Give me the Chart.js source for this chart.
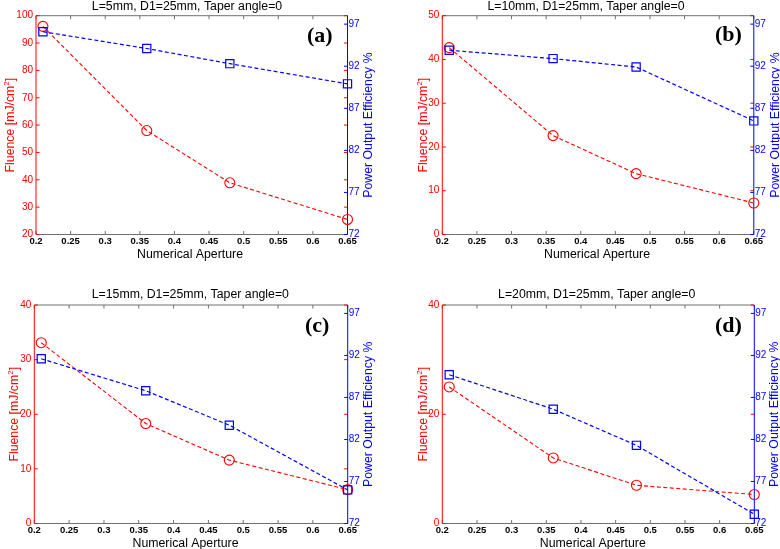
<!DOCTYPE html>
<html>
<head>
<meta charset="utf-8">
<script src="https://cdn.jsdelivr.net/npm/chart.js@4.4.1/dist/chart.umd.min.js"></script>
<style>
  html, body { margin: 0; padding: 0; background: #fff; }
  #wrap { position: relative; width: 780px; height: 549px; overflow: hidden; background: #fff; }
  #wrap canvas { position: absolute; left: 0; top: 0; }
</style>
</head>
<body>
<div id="wrap">
  <canvas id="pa" width="780" height="549"></canvas>
  <canvas id="pb" width="780" height="549"></canvas>
  <canvas id="pc" width="780" height="549"></canvas>
  <canvas id="pd" width="780" height="549"></canvas>
</div>
<script>
/* Fluence / power-output efficiency vs numerical aperture, four fibre lengths. */

// numerical aperture of the four fibres (x)
const NA = [0.21, 0.36, 0.48, 0.65];
const X_TICKS = [0.2, 0.25, 0.3, 0.35, 0.4, 0.45, 0.5, 0.55, 0.6, 0.65];

// left axis: fluence [mJ/cm2]
const FLUENCE_A = [96.1, 58.0, 38.9, 25.5];
const FLUENCE_B = [42.7, 22.6, 13.9, 7.2];
const FLUENCE_C = [33.1, 18.3, 11.6, 6.2];
const FLUENCE_D = [25.0, 12.0, 7.0, 5.3];
const FLU_TICKS_A = [20, 30, 40, 50, 60, 70, 80, 90, 100];
const FLU_TICKS_B = [0, 10, 20, 30, 40, 50];
const FLU_TICKS_C = [0, 10, 20, 30, 40];
const FLU_TICKS_D = [0, 20, 40];

// right axis: power output efficiency %
const POWER_A = [96.1, 94.1, 92.3, 89.9];
const POWER_B = [93.9, 92.9, 91.9, 85.5];
const POWER_C = [91.6, 87.8, 83.7, 76.0];
const POWER_D = [89.7, 85.6, 81.3, 73.1];
const EFF_TICKS = [72, 77, 82, 87, 92, 97];

const TITLES = [
  "L=5mm, D1=25mm, Taper angle=0",
  "L=10mm, D1=25mm, Taper angle=0",
  "L=15mm, D1=25mm, Taper angle=0",
  "L=20mm, D1=25mm, Taper angle=0",
];
const TAGS = ["(a)", "(b)", "(c)", "(d)"];

const PANELS = [
  { id: "pa", flu: FLUENCE_A, pow: POWER_A, fluTicks: FLU_TICKS_A, fluMin: 20, fluMax: 100 },
  { id: "pb", flu: FLUENCE_B, pow: POWER_B, fluTicks: FLU_TICKS_B, fluMin: 0, fluMax: 50 },
  { id: "pc", flu: FLUENCE_C, pow: POWER_C, fluTicks: FLU_TICKS_C, fluMin: 0, fluMax: 40 },
  { id: "pd", flu: FLUENCE_D, pow: POWER_D, fluTicks: FLU_TICKS_D, fluMin: 0, fluMax: 40 },
];

// where each panel sits on the 780x549 page
const GEOM = [
  { left: 36,    right: 347.5, top: 15.7, bottom: 234.5, titleX: 187,   titleY: 10.3,  xTitleX: 190,   xTitleY: 258,   yTitleX: 14,    y2TitleX: 372,   tagX: 307, tagY: 36.7 },
  { left: 442.3, right: 753.8, top: 15.7, bottom: 234.5, titleX: 586,   titleY: 10.3,  xTitleX: 597,   xTitleY: 258,   yTitleX: 426.7, y2TitleX: 779,   tagX: 715, tagY: 35 },
  { left: 34.3,  right: 347.7, top: 305,  bottom: 523.5, titleX: 190.3, titleY: 297.7, xTitleX: 185.5, xTitleY: 546.7, yTitleX: 18.3,  y2TitleX: 371.5, tagX: 305, tagY: 326.7 },
  { left: 442.3, right: 754.3, top: 305,  bottom: 523.5, titleX: 596.7, titleY: 297.7, xTitleX: 592.8, xTitleY: 546.7, yTitleX: 427,   y2TitleX: 778,   tagX: 715, tagY: 326.7 },
];

const RED = "#ff0000", BLUE = "#0000ff", GREY = "#707070";
const SANS = "'Liberation Sans', Arial, sans-serif";
const SERIF = "'Liberation Serif', 'Times New Roman', serif";
const LW = 30, RW = 20, XH = 20, TICK = 3.5;

function decor(i) {
  const g = GEOM[i], p = PANELS[i];
  return {
    id: "decor" + i,
    beforeDatasetsDraw(chart) {
      const ctx = chart.ctx, a = chart.chartArea;
      const xs = chart.scales.x, ys = chart.scales.y;
      ctx.save();
      ctx.lineWidth = 1;
      // top / bottom spines + inward x ticks
      ctx.strokeStyle = GREY;
      ctx.beginPath();
      ctx.moveTo(a.left, a.top); ctx.lineTo(a.right, a.top);
      ctx.moveTo(a.left, a.bottom); ctx.lineTo(a.right, a.bottom);
      X_TICKS.forEach((v) => {
        const px = xs.getPixelForValue(v);
        ctx.moveTo(px, a.bottom); ctx.lineTo(px, a.bottom - TICK);
        ctx.moveTo(px, a.top); ctx.lineTo(px, a.top + TICK);
      });
      ctx.stroke();
      // left spine + red ticks (mirrored on the right)
      ctx.strokeStyle = RED;
      ctx.beginPath();
      ctx.moveTo(a.left, a.top); ctx.lineTo(a.left, a.bottom);
      p.fluTicks.forEach((v) => {
        const py = ys.getPixelForValue(v);
        ctx.moveTo(a.left, py); ctx.lineTo(a.left + TICK, py);
        ctx.moveTo(a.right, py); ctx.lineTo(a.right - TICK, py);
      });
      ctx.stroke();
      // right spine + blue ticks
      const y2 = chart.scales.y2;
      ctx.strokeStyle = BLUE;
      ctx.beginPath();
      ctx.moveTo(a.right, a.top); ctx.lineTo(a.right, a.bottom);
      EFF_TICKS.forEach((v) => {
        const py = y2.getPixelForValue(v);
        ctx.moveTo(a.right, py); ctx.lineTo(a.right - TICK, py);
      });
      ctx.stroke();
      ctx.restore();
    },
    afterDraw(chart) {
      const ctx = chart.ctx, a = chart.chartArea;
      const cy = (a.top + a.bottom) / 2;
      const F = "12.3px " + SANS;
      ctx.save();
      ctx.fillStyle = "#000";
      ctx.font = F;
      ctx.textAlign = "center";
      ctx.textBaseline = "alphabetic";
      ctx.fillText(TITLES[i], g.titleX, g.titleY);
      ctx.fillText("Numerical Aperture", g.xTitleX, g.xTitleY);

      // left title with superscript
      ctx.save();
      ctx.translate(g.yTitleX, cy);
      ctx.rotate(-Math.PI / 2);
      ctx.fillStyle = RED;
      ctx.textAlign = "left";
      const t1 = "Fluence [mJ/cm", t2 = "2", t3 = "]";
      const SUP = "8px " + SANS;
      ctx.font = F; const w1 = ctx.measureText(t1).width, w3 = ctx.measureText(t3).width;
      ctx.font = SUP; const w2 = ctx.measureText(t2).width;
      let x0 = -(w1 + w2 + w3) / 2;
      ctx.font = F; ctx.fillText(t1, x0, 0);
      ctx.font = SUP; ctx.fillText(t2, x0 + w1, -5);
      ctx.font = F; ctx.fillText(t3, x0 + w1 + w2, 0);
      ctx.restore();

      // right title
      ctx.save();
      ctx.translate(g.y2TitleX, cy);
      ctx.rotate(-Math.PI / 2);
      ctx.fillStyle = BLUE;
      ctx.font = F;
      ctx.textAlign = "center";
      ctx.fillText("Power Output Efficiency %", 0, 0);
      ctx.restore();

      // panel tag
      ctx.font = "bold 22px " + SERIF;
      ctx.textAlign = "left";
      ctx.textBaseline = "middle";
      ctx.fillStyle = "#000";
      ctx.fillText(TAGS[i], g.tagX, g.tagY);
      ctx.restore();
    },
  };
}

function makeChart(i) {
  const p = PANELS[i], g = GEOM[i];
  const pts = (ys) => NA.map((x, k) => ({ x: x, y: ys[k] }));
  return new Chart(document.getElementById(p.id), {
    type: "line",
    data: {
      datasets: [
        {
          label: "Power Output Efficiency", data: pts(p.pow), yAxisID: "y2",
          borderColor: BLUE, borderWidth: 1.2, borderDash: [4, 2.5],
          pointStyle: "rect", pointRadius: 5.8, pointBorderWidth: 1.2,
          pointBorderColor: BLUE, pointBackgroundColor: "rgba(0,0,0,0)",
          tension: 0, clip: false, fill: false,
        },
        {
          label: "Fluence", data: pts(p.flu), yAxisID: "y",
          borderColor: RED, borderWidth: 1.1, borderDash: [4, 2.5],
          pointStyle: "circle", pointRadius: 5, pointBorderWidth: 1.1,
          pointBorderColor: RED, pointBackgroundColor: "rgba(0,0,0,0)",
          tension: 0, clip: false, fill: false,
        },
      ],
    },
    options: {
      responsive: false, animation: false, events: [],
      layout: { padding: { left: g.left - LW, right: 780 - g.right - RW, top: g.top, bottom: 549 - g.bottom - XH } },
      plugins: { legend: { display: false }, tooltip: { enabled: false }, title: { display: false } },
      scales: {
        x: {
          type: "linear", position: "bottom", min: 0.2, max: 0.65,
          afterBuildTicks: (s) => { s.ticks = X_TICKS.map((v) => ({ value: v })); },
          afterFit: (s) => { s.height = XH; },
          grid: { display: false, drawTicks: false }, border: { display: false },
          ticks: { color: "#000", padding: 1, maxRotation: 0, autoSkip: false,
                   font: { family: SANS, size: 9.5, weight: "bold" }, callback: (v) => String(v) },
        },
        y: {
          type: "linear", position: "left", min: p.fluMin, max: p.fluMax,
          afterBuildTicks: (s) => { s.ticks = p.fluTicks.map((v) => ({ value: v })); },
          afterFit: (s) => { s.width = LW; },
          grid: { display: false, drawTicks: false }, border: { display: false },
          ticks: { color: RED, padding: 3, font: { family: SANS, size: 10 }, callback: (v) => String(v) },
        },
        y2: {
          type: "linear", position: "right", min: 72, max: 98,
          afterBuildTicks: (s) => { s.ticks = EFF_TICKS.map((v) => ({ value: v })); },
          afterFit: (s) => { s.width = RW; },
          grid: { display: false, drawTicks: false }, border: { display: false },
          ticks: { color: BLUE, padding: 1, font: { family: SANS, size: 10 }, callback: (v) => String(v) },
        },
      },
    },
    plugins: [decor(i)],
  });
}

PANELS.forEach((p, i) => makeChart(i));
</script>
</body>
</html>
